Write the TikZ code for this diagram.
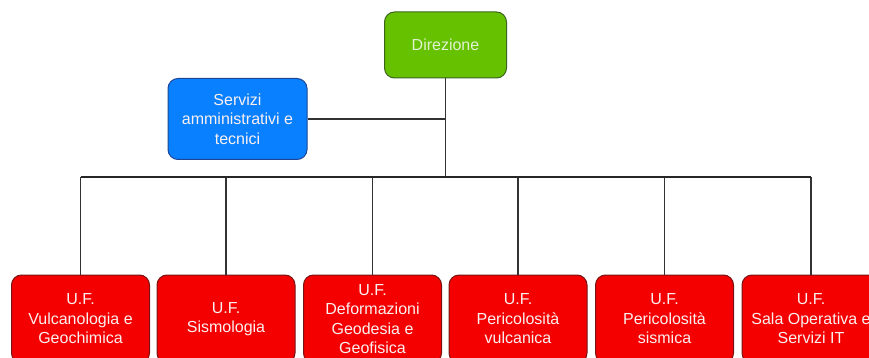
\documentclass[tikz,border=0pt]{standalone}
\usepackage{fontspec}
\setmainfont{Liberation Sans}
\definecolor{gfill}{RGB}{102,194,0}
\definecolor{gdraw}{RGB}{60,100,30}
\definecolor{gtext}{RGB}{225,242,210}
\definecolor{bfill}{RGB}{8,128,255}
\definecolor{bdraw}{RGB}{30,70,150}
\definecolor{rfill}{RGB}{245,0,0}
\definecolor{rdraw}{RGB}{120,20,20}
\definecolor{ltext}{RGB}{250,240,240}
\begin{document}
\begin{tikzpicture}[x=1pt,y=-1pt,
  box/.style={rectangle, rounded corners=10pt, line width=1pt, align=center,
    font=\fontsize{16}{19.5}\selectfont, inner sep=0pt},
  dirbox/.style={box, fill=gfill, draw=gdraw, text=gtext, minimum width=122pt, minimum height=66pt},
  servbox/.style={box, fill=bfill, draw=bdraw, text=ltext, minimum width=139pt, minimum height=81pt},
  ufbox/.style={box, fill=rfill, draw=rdraw, text=ltext, minimum width=138pt, minimum height=88pt},
  busline/.style={line width=1.8pt, black!85},
  link/.style={line width=1.2pt, black!80}]
\useasboundingbox (0,0) rectangle (869,358);
\clip (0,0) rectangle (869,358);
\node[dirbox] (dir) at (445.5,45) {Direzione};
\node[servbox] (serv) at (237.5,119) {Servizi\\amministrativi e\\tecnici};
\node[ufbox] (u1) at (80.5,319) {U.F.\\Vulcanologia e\\Geochimica};
\node[ufbox] (u2) at (226,319) {U.F.\\Sismologia};
\node[ufbox] (u3) at (372.5,319) {U.F.\\Deformazioni\\Geodesia e\\Geofisica};
\node[ufbox] (u4) at (518,319) {U.F.\\Pericolosità\\vulcanica};
\node[ufbox] (u5) at (664.5,319) {U.F.\\Pericolosità\\sismica};
\node[ufbox] (u6) at (811,319) {U.F.\\Sala Operativa e\\Servizi IT};
\coordinate (busL) at (80.5,177);
\coordinate (busR) at (811,177);
\draw[link] (dir.south) -- (dir.south |- busL);
\draw[link] (serv.east) -- (serv.east -| dir.south);
\foreach \u in {u1,u2,u3,u4,u5,u6}{
  \draw[link] (\u.north) -- (\u.north |- busL);
}
\draw[busline] (busL) -- (busR);
\end{tikzpicture}
\end{document}
